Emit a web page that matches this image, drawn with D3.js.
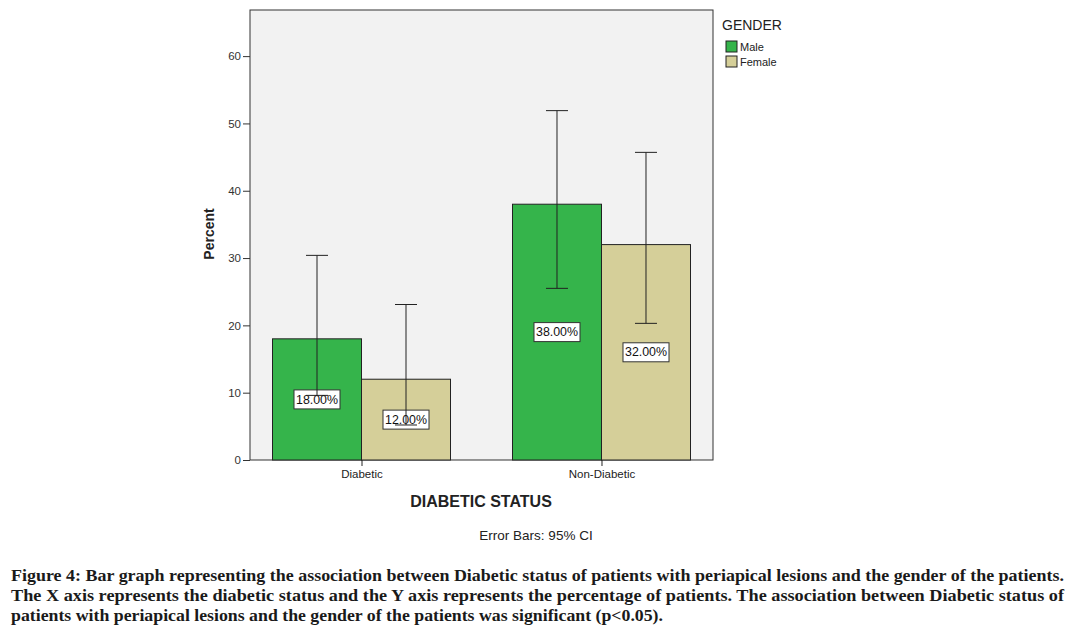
<!DOCTYPE html>
<html><head><meta charset="utf-8">
<script src="https://cdn.jsdelivr.net/npm/d3@7"></script>
<style>body{margin:0;background:#fff}svg{display:block}</style>
</head><body>
<script>
const categories = ["Diabetic", "Non-Diabetic"];
const genders = ["Male", "Female"];
const maleValues = [18, 38];
const femaleValues = [12, 32];
const maleLow = [9.6, 25.5];
const maleHigh = [30.4, 51.9];
const femaleLow = [5.2, 20.3];
const femaleHigh = [23.1, 45.7];
const yTicks = [0, 10, 20, 30, 40, 50, 60];
const colors = {Male: "#35b44b", Female: "#d5cf99"};
const caption = [
 "Figure 4: Bar graph representing the association between Diabetic status of patients with periapical lesions and the gender of the patients.",
 "The X axis represents the diabetic status and the Y axis represents the percentage of patients. The association between Diabetic status of",
 "patients with periapical lesions and the gender of the patients was significant (p<0.05)."
];
const captionWidths = [1053, 1053, 652];

const W = 1078, H = 632;
const svg = d3.select("body").append("svg").attr("width", W).attr("height", H);
const L = 250, R = 713, T = 10, B = 460;

const y = d3.scaleLinear().domain([0, 66.85]).range([B, T]);
const x = d3.scalePoint().domain(categories).range([L, R]).padding(0.4646);
const bw = 89;
const xs = d3.scaleBand().domain(genders).range([-bw, bw]).padding(0);

svg.append("rect").attr("x", L).attr("y", T).attr("width", R - L).attr("height", B - T)
  .attr("fill", "#f2f2f2").attr("stroke", "#333").attr("stroke-width", 1);

const data = [];
categories.forEach((c, i) => {
  data.push({c, g: "Male", v: maleValues[i], lo: maleLow[i], hi: maleHigh[i]});
  data.push({c, g: "Female", v: femaleValues[i], lo: femaleLow[i], hi: femaleHigh[i]});
});

svg.selectAll("rect.bar").data(data).enter().append("rect").attr("class", "bar")
  .attr("x", d => x(d.c) + xs(d.g)).attr("width", xs.bandwidth())
  .attr("y", d => y(d.v)).attr("height", d => y(0) - y(d.v))
  .attr("fill", d => colors[d.g]).attr("stroke", "#222").attr("stroke-width", 1);

// labels
const lab = svg.selectAll("g.lab").data(data).enter().append("g")
  .attr("transform", d => `translate(${x(d.c) + xs(d.g) + xs.bandwidth() / 2},${y(d.v / 2)})`);
lab.append("rect").attr("x", -23).attr("y", -9.5).attr("width", 46).attr("height", 19)
  .attr("fill", "#fff").attr("stroke", "#333");
lab.append("text").attr("text-anchor", "middle").attr("dy", "0.35em")
  .attr("font-family", "Liberation Sans, Arial, sans-serif").attr("font-size", 12).attr("fill", "#111")
  .attr("textLength", 42).attr("lengthAdjust", "spacingAndGlyphs")
  .text(d => d.v.toFixed(2) + "%");

// error bars (drawn over the labels)
const eb = svg.selectAll("g.eb").data(data).enter().append("g")
  .attr("transform", d => `translate(${x(d.c) + xs(d.g) + xs.bandwidth() / 2},0)`);
eb.append("line").attr("y1", d => y(d.lo)).attr("y2", d => y(d.hi)).attr("stroke", "#222");
eb.append("line").attr("x1", -11).attr("x2", 11).attr("y1", d => y(d.hi)).attr("y2", d => y(d.hi)).attr("stroke", "#222");
eb.append("line").attr("x1", -11).attr("x2", 11).attr("y1", d => y(d.lo)).attr("y2", d => y(d.lo)).attr("stroke", "#222");

// y axis
const ya = svg.append("g").attr("transform", `translate(${L},0)`)
  .call(d3.axisLeft(y).tickValues(yTicks).tickSize(7).tickPadding(2));
ya.select(".domain").remove();
ya.selectAll("line").attr("stroke", "#333");
ya.selectAll("text").attr("font-family", "Liberation Sans, Arial, sans-serif").attr("font-size", 11.5).attr("fill", "#333");

// x axis
const xa = svg.append("g").attr("transform", `translate(0,${B})`)
  .call(d3.axisBottom(x).tickSize(6).tickPadding(4));
xa.select(".domain").remove();
xa.selectAll("line").attr("stroke", "#222");
xa.selectAll("text").attr("font-family", "Liberation Sans, Arial, sans-serif").attr("font-size", 11.5).attr("fill", "#222");

svg.append("text").attr("transform", "translate(214,234) rotate(-90)").attr("text-anchor", "middle")
  .attr("font-family", "Liberation Sans, Arial, sans-serif").attr("font-size", 14).attr("font-weight", "bold")
  .attr("fill", "#222").text("Percent");
svg.append("text").attr("x", 481).attr("y", 507).attr("text-anchor", "middle")
  .attr("font-family", "Liberation Sans, Arial, sans-serif").attr("font-size", 16).attr("font-weight", "bold")
  .attr("fill", "#222").text("DIABETIC STATUS");
svg.append("text").attr("x", 536).attr("y", 540).attr("text-anchor", "middle")
  .attr("font-family", "Liberation Sans, Arial, sans-serif").attr("font-size", 13.5)
  .attr("fill", "#222").text("Error Bars: 95% CI");

// legend
svg.append("text").attr("x", 722).attr("y", 30)
  .attr("font-family", "Liberation Sans, Arial, sans-serif").attr("font-size", 14).attr("fill", "#222").text("GENDER");
const lg = svg.selectAll("g.lg").data(genders).enter().append("g")
  .attr("transform", (d, i) => `translate(726,${41 + i * 15})`);
lg.append("rect").attr("width", 11).attr("height", 11).attr("fill", d => colors[d]).attr("stroke", "#222");
lg.append("text").attr("x", 14).attr("y", 10)
  .attr("font-family", "Liberation Sans, Arial, sans-serif").attr("font-size", 11).attr("fill", "#222").text(d => d);

// caption
caption.forEach((t, i) => {
  svg.append("text").attr("x", 11).attr("y", 581 + i * 20)
    .attr("font-family", "Liberation Serif, Times New Roman, serif").attr("font-size", 16.5)
    .attr("font-weight", "bold").attr("fill", "#1a1a1a")
    .attr("textLength", captionWidths[i]).attr("lengthAdjust", "spacingAndGlyphs").text(t);
});
</script>
</body></html>
